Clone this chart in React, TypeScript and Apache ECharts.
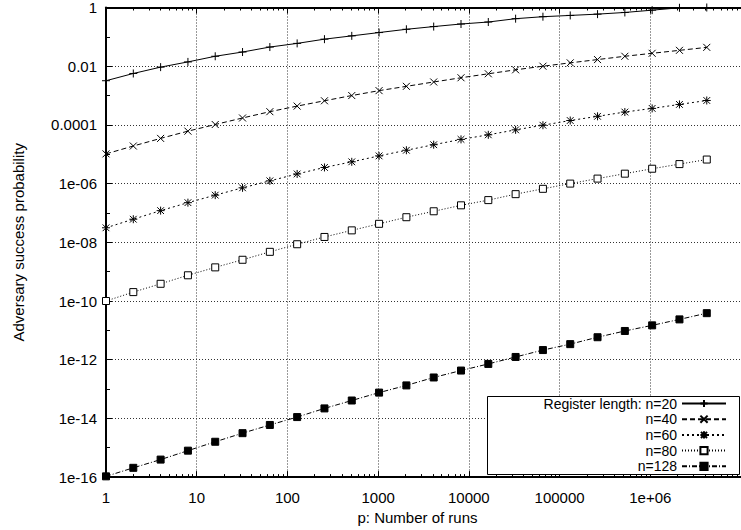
import React, { useEffect, useRef } from "react";
import * as echarts from "echarts";

// p: number of runs (x values)
const runs = [
  1, 2, 4, 8, 16, 32, 64, 128, 256, 512, 1024, 2048, 4096, 8192, 16384, 32768,
  65536, 131072, 262144, 524288, 1048576, 2097152, 4194304,
];

// Adversary success probability per register length
const n20 = [
  3.2e-3, 5.65e-3, 9.3e-3, 0.014, 0.0218, 0.0304, 0.0449, 0.0598, 0.0834, 0.108,
  0.14, 0.181, 0.224, 0.274, 0.32, 0.416, 0.486, 0.537, 0.594, 0.678, 0.811, 0.977, 1.0,
];
const n40 = [
  1.03e-5, 1.91e-5, 3.47e-5, 6.12e-5, 1.03e-4, 1.72e-4, 2.82e-4, 4.37e-4, 6.64e-4, 1.0e-3,
  1.47e-3, 2.06e-3, 2.9e-3, 4.04e-3, 5.52e-3, 7.53e-3, 0.01, 0.013, 0.0168, 0.0218,
  0.0275, 0.0347, 0.0438,
];
const n60 = [
  3.12e-8, 6.12e-8, 1.2e-7, 2.24e-7, 4.04e-7, 7.18e-7, 1.24e-6, 2.13e-6, 3.55e-6, 5.52e-6,
  8.79e-6, 1.37e-5, 2.11e-5, 3.21e-5, 4.59e-5, 6.78e-5, 9.75e-5, 1.41e-4, 1.96e-4, 2.74e-4,
  3.65e-4, 4.98e-4, 6.79e-4,
];
const n80 = [
  1.0e-10, 2.01e-10, 3.86e-10, 7.52e-10, 1.4e-9, 2.54e-9, 4.73e-9, 8.59e-9, 1.52e-8, 2.55e-8,
  4.26e-8, 7.16e-8, 1.14e-7, 1.82e-7, 2.74e-7, 4.37e-7, 6.64e-7, 1.0e-6, 1.48e-6, 2.18e-6,
  3.21e-6, 4.62e-6, 6.6e-6,
];
const n128 = [
  1.06e-16, 2.07e-16, 3.95e-16, 7.96e-16, 1.6e-15, 3.14e-15, 5.98e-15, 1.11e-14, 2.19e-14,
  4.07e-14, 7.57e-14, 1.33e-13, 2.48e-13, 4.27e-13, 7.18e-13, 1.24e-12, 2.13e-12, 3.39e-12,
  5.83e-12, 9.52e-12, 1.48e-11, 2.36e-11, 3.85e-11,
];

const seriesNames = ["Register length: n=20", "n=40", "n=60", "n=80", "n=128"];
const seriesValues = [n20, n40, n60, n80, n128];

// tick labels indexed by decade exponent
const xTickLabels = ["1", "10", "100", "1000", "10000", "100000", "1e+06"];
// indexed by -exponent / 2
const yTickLabels = ["1", "0.01", "0.0001", "1e-06", "1e-08", "1e-10", "1e-12", "1e-14", "1e-16"];

const FONT = "'Liberation Sans', Arial, Helvetica, sans-serif";

const PLUS = "path://M0,5L10,5M5,0L5,10";
const CROSS = "path://M0,0L10,10M10,0L0,10";
const STAR = "path://M0,5L10,5M5,0L5,10M0.8,0.8L9.2,9.2M9.2,0.8L0.8,9.2";

const seriesStyle = [
  { symbol: PLUS, size: 8, dash: "solid" as any, fill: "#000" },
  { symbol: CROSS, size: 7, dash: [5, 3], fill: "#000" },
  { symbol: STAR, size: 8, dash: [2, 3], fill: "#000" },
  { symbol: "rect", size: 7, dash: [1, 2], fill: "#fff" },
  { symbol: "rect", size: 7, dash: [5, 2, 1, 2], fill: "#000" },
];

export default function App() {
  const ref = useRef<HTMLDivElement>(null);
  useEffect(() => {
    if (!ref.current) return;
    const chart = echarts.init(ref.current, undefined, { renderer: "svg" });
    const axisText = { color: "#000", fontSize: 15, fontFamily: FONT };
    const gridLine = { show: true, lineStyle: { color: "#333", type: [1, 2], width: 1 } };
    const rowGap = 15.7;
    const option: any = {
      animation: false,
      backgroundColor: "#fff",
      grid: { left: 106, right: -12, top: 4, bottom: 51, containLabel: false },
      xAxis: [
        {
          type: "log",
          logBase: 10,
          min: 1,
          max: 1e7,
          name: "p: Number of runs",
          nameLocation: "middle",
          nameGap: 28,
          nameTextStyle: { ...axisText, padding: [0, 12, 0, 0] },
          axisLine: { lineStyle: { color: "#000", width: 2 } },
          axisTick: { inside: true, length: 6, lineStyle: { color: "#000", width: 1 } },
          minorTick: { show: true, splitNumber: 9, length: 3, lineStyle: { color: "#000", width: 1 } },
          axisLabel: {
            ...axisText,
            margin: 13,
            showMaxLabel: false,
            formatter: (v: number) => xTickLabels[Math.round(Math.log10(v))] ?? "",
          },
          splitLine: gridLine,
        },
        {
          type: "log",
          logBase: 10,
          min: 1,
          max: 1e7,
          position: "top",
          axisLine: { lineStyle: { color: "#000", width: 2 } },
          axisTick: { inside: true, length: 6, lineStyle: { color: "#000", width: 1 } },
          minorTick: { show: true, splitNumber: 9, length: 3, lineStyle: { color: "#000", width: 1 } },
          axisLabel: { show: false },
          splitLine: { show: false },
        },
      ],
      yAxis: [
        {
          type: "log",
          logBase: 10,
          min: 1e-16,
          max: 1,
          interval: 2,
          splitNumber: 8,
          name: "Adversary success probability",
          nameLocation: "middle",
          nameGap: 80,
          nameTextStyle: axisText,
          axisLine: { lineStyle: { color: "#000", width: 2 } },
          axisTick: { inside: true, length: 6, lineStyle: { color: "#000", width: 1 } },
          axisLabel: {
            ...axisText,
            margin: 9,
            formatter: (v: number) => yTickLabels[Math.round(-Math.log10(v) / 2)] ?? "",
          },
          splitLine: gridLine,
        },
        {
          type: "log",
          logBase: 10,
          min: 1e-16,
          max: 1,
          interval: 1,
          splitNumber: 16,
          position: "left",
          axisLine: { show: false },
          axisTick: { inside: true, length: 4, lineStyle: { color: "#000", width: 1 } },
          axisLabel: { show: false },
          splitLine: { show: false },
        },
      ],
      legend: seriesNames.map((name, i) => ({
        data: [name],
        orient: "horizontal",
        align: "right",
        right: 14,
        top: 396.5 + i * rowGap,
        itemWidth: 44,
        itemHeight: 9,
        padding: 0,
        selectedMode: false,
        z: 6,
        textStyle: { color: "#000", fontSize: 14, fontFamily: FONT, lineHeight: 14 },
      })),
      graphic: [
        {
          type: "rect",
          z: 3,
          shape: { x: 487.5, y: 396.5, width: 252, height: 78 },
          style: { fill: "#fff", stroke: "#000", lineWidth: 1 },
        },
      ],
      series: seriesNames.map((name, i) => ({
        name,
        type: "line",
        xAxisIndex: 0,
        yAxisIndex: 0,
        data: runs.map((p, k) => [p, seriesValues[i][k]]),
        symbol: seriesStyle[i].symbol,
        symbolSize: seriesStyle[i].size,
        showAllSymbol: true,
        clip: false,
        z: 2,
        lineStyle: { color: "#000", width: 1, type: seriesStyle[i].dash },
        itemStyle: { color: seriesStyle[i].fill, borderColor: "#000", borderWidth: 1 },
        emphasis: { disabled: true },
      })),
    };
    chart.setOption(option);
    return () => chart.dispose();
  }, []);
  return (
    <div
      ref={ref}
      style={{ position: "fixed", left: 0, top: 0, width: 741, height: 530, background: "#fff" }}
    />
  );
}
